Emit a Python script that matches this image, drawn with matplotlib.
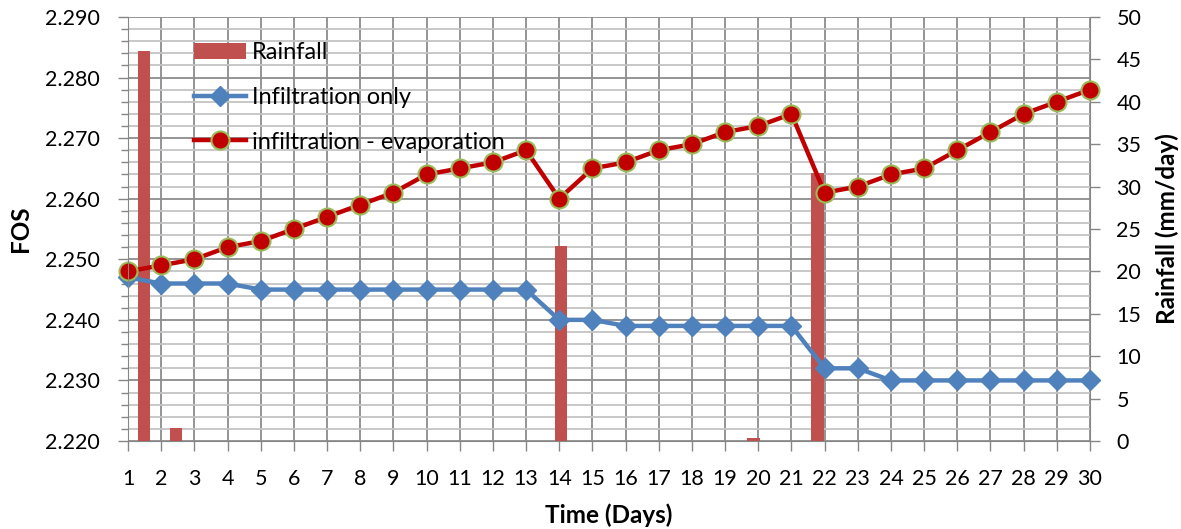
import matplotlib
matplotlib.use("Agg")
import matplotlib.pyplot as plt
import numpy as np
from matplotlib.ticker import MultipleLocator, FormatStrFormatter

plt.rcParams['font.family'] = ['Lato', 'DejaVu Sans']

# data
days = np.arange(1, 31)
rainfall = [46, 1.5, 0, 0, 0, 0, 0, 0, 0, 0, 0, 0, 0, 23, 0,
            0, 0, 0, 0, 0.4, 0, 31.6, 0, 0, 0, 0, 0, 0, 0, 0]
fos_infiltration = [2.247, 2.246, 2.246, 2.246, 2.245, 2.245, 2.245, 2.245, 2.245, 2.245,
                    2.245, 2.245, 2.245, 2.240, 2.240, 2.239, 2.239, 2.239, 2.239, 2.239,
                    2.239, 2.232, 2.232, 2.230, 2.230, 2.230, 2.230, 2.230, 2.230, 2.230]
fos_evaporation = [2.248, 2.249, 2.250, 2.252, 2.253, 2.255, 2.257, 2.259, 2.261, 2.264,
                   2.265, 2.266, 2.268, 2.260, 2.265, 2.266, 2.268, 2.269, 2.271, 2.272,
                   2.274, 2.261, 2.262, 2.264, 2.265, 2.268, 2.271, 2.274, 2.276, 2.278]

W, H = 1181, 529
fig = plt.figure(figsize=(W / 100, H / 100), dpi=100)
pos = [128 / W, 1 - 441 / H, 962 / W, 424 / H]
spine_col = '#868686'
fs = 15.5       # tick labels
fs_lab = 17.5   # axis titles
fs_leg = 17     # legend

# background axes only for the grid
axg = fig.add_axes(pos, zorder=0)
axg.set_xlim(1, 30)
axg.set_ylim(2.22, 2.29)
axg.xaxis.set_major_locator(MultipleLocator(1))
axg.yaxis.set_major_locator(MultipleLocator(0.01))
axg.yaxis.set_minor_locator(MultipleLocator(0.002))
axg.grid(axis='x', which='major', color='#8c8c8c', lw=1.3)
axg.grid(axis='y', which='major', color='#8c8c8c', lw=1.3)
axg.grid(axis='y', which='minor', color='#c4c4c4', lw=1.3)
axg.tick_params(which='both', length=0, labelleft=False, labelbottom=False)
for s in axg.spines.values():
    s.set_visible(False)

# rainfall bars on secondary axes (categories between tick marks)
axb = fig.add_axes(pos, zorder=1)
axb.patch.set_visible(False)
axb.set_xlim(0, 30)
axb.set_ylim(0, 50)
bars = axb.bar(days - 0.5, rainfall, width=0.39, color='#C0504D', label='Rainfall')
axb.yaxis.tick_right()
axb.yaxis.set_label_position('right')
axb.yaxis.set_major_locator(MultipleLocator(5))
axb.set_xticks([])
axb.tick_params(axis='y', direction='out', length=7, width=1, color=spine_col,
                pad=12, labelsize=fs)
for k in ['left', 'top', 'bottom']:
    axb.spines[k].set_visible(False)
axb.spines['right'].set_color(spine_col)
axb.set_ylabel('Rainfall (mm/day)', fontsize=fs_lab, fontweight='bold')
axb.yaxis.set_label_coords(1.0676, 0.5)

# FOS lines
ax = fig.add_axes(pos, zorder=2)
ax.patch.set_visible(False)
l1, = ax.plot(days, fos_infiltration, color='#4F81BD', lw=3.2, marker='D', ms=10,
              mec='#4F81BD', label='Infiltration only', clip_on=False)
l2, = ax.plot(days, fos_evaporation, color='#C00000', lw=3.2, marker='o', ms=13,
              mfc='#C00000', mec='#9BBB59', mew=1.5,
              label='infiltration - evaporation', clip_on=False)
ax.set_xlim(1, 30)
ax.set_ylim(2.22, 2.29)
ax.set_xticks(days)
ax.yaxis.set_major_locator(MultipleLocator(0.01))
ax.yaxis.set_minor_locator(MultipleLocator(0.002))
ax.yaxis.set_major_formatter(FormatStrFormatter('%.3f'))
ax.tick_params(which='major', direction='out', length=7, width=1, color=spine_col,
               pad=13, labelsize=fs)
ax.tick_params(axis='y', which='minor', direction='out', length=5, width=1, color=spine_col)
for k in ['right', 'top']:
    ax.spines[k].set_visible(False)
for k in ['left', 'bottom']:
    ax.spines[k].set_color(spine_col)
ax.set_ylabel('FOS', fontsize=fs_lab, fontweight='bold')
ax.yaxis.set_label_coords(-0.0998, 0.5)
ax.set_xlabel('Time (Days)', fontsize=fs_lab, fontweight='bold')
ax.xaxis.set_label_coords(0.5, -0.148)

leg = ax.legend([bars, l1, l2], ['Rainfall', 'Infiltration only', 'infiltration - evaporation'],
                loc='upper left', bbox_to_anchor=(0.0686, 0.94), frameon=False,
                fontsize=fs_leg, handlelength=2.2, handletextpad=0.25, labelspacing=1.0,
                borderpad=0, borderaxespad=0)

fig.savefig('out.png', dpi=100)
